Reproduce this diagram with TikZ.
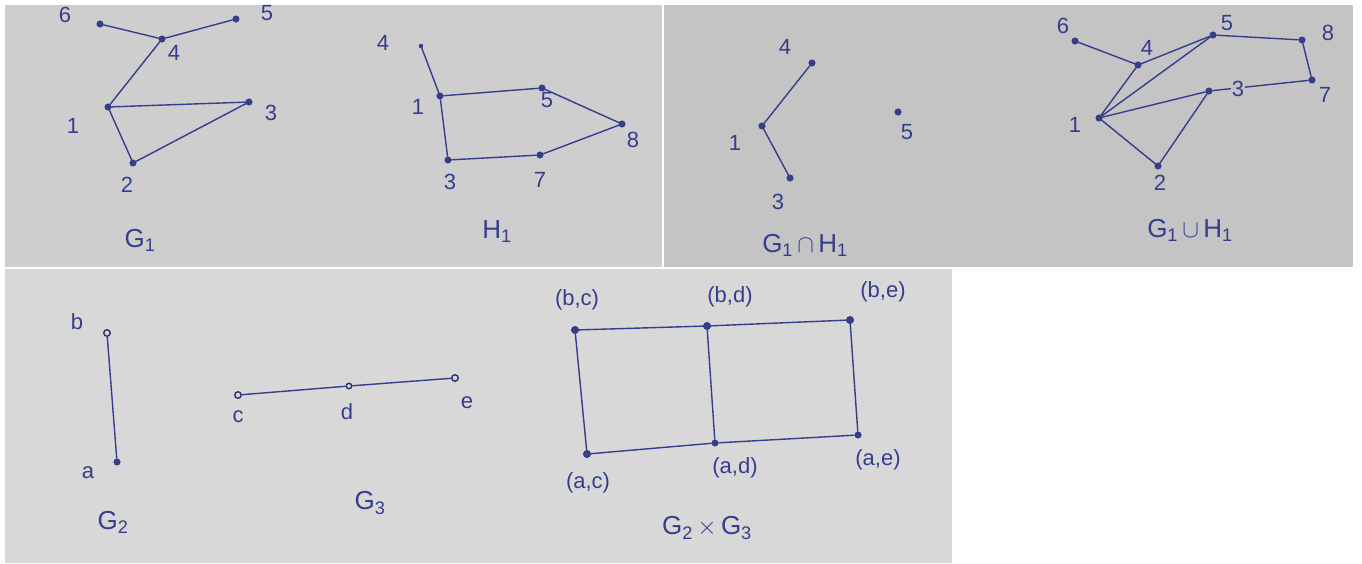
\documentclass[tikz,border=0pt]{standalone}
\usepackage{fontspec}
\setmainfont{Liberation Sans}
\begin{document}
\begin{tikzpicture}[x=1pt,y=-1pt,
  v/.style={circle,fill=ink,draw=ink!80!black,inner sep=0pt,minimum size=6.5pt},
  lab/.style={text=ink,font=\fontsize{22}{26}\selectfont,inner sep=0pt},
  ttl/.style={text=ink,font=\fontsize{26}{30}\selectfont,inner sep=0pt},
  e/.style={draw=ink,line width=1.4pt}]
\definecolor{ink}{RGB}{52,62,140}
\definecolor{paperA}{RGB}{206,206,206}
\definecolor{paperB}{RGB}{196,196,196}
\definecolor{paperC}{RGB}{216,216,216}
\useasboundingbox (0,0) rectangle (1362,563);
\fill[white] (0,0) rectangle (1362,563);
\fill[paperA] (5,5) rectangle (662,267);
\fill[paperB] (664,5) rectangle (1353,267);
\fill[paperC] (5,269) rectangle (952,563);

% ---------- G1 ----------
\node[v] (g6) at (100,24) {};
\node[v] (g5) at (236,19) {};
\node[v] (g4) at (162,39) {};
\node[v] (g1) at (108,107) {};
\node[v] (g3) at (249,102) {};
\node[v] (g2) at (133,163) {};
\draw[e] (g6) -- (g4) -- (g5);
\draw[e] (g4) -- (g1) -- (g3) -- (g2) -- (g1);
\node[lab] at (65,15) {6};
\node[lab] at (267,13) {5};
\node[lab] at (174,53) {4};
\node[lab] at (73,126) {1};
\node[lab] at (271,113) {3};
\node[lab] at (127,185) {2};
\node[ttl] (tG1) at (140,240) {G\textsubscript{1}};

% ---------- H1 ----------
\node[v,minimum size=4pt] (h4) at (421,46) {};
\node[v] (h1) at (440,96) {};
\node[v] (h5) at (542,88) {};
\node[v] (h8) at (622,124) {};
\node[v] (h7) at (540,155) {};
\node[v] (h3) at (448,160) {};
\draw[e] (h4) -- (h1) -- (h5) -- (h8) -- (h7) -- (h3) -- (h1);
\node[lab] at (383,43) {4};
\node[lab] at (418,107) {1};
\node[lab] at (547,100) {5};
\node[lab] at (633,140) {8};
\node[lab] at (540,180) {7};
\node[lab] at (450,182) {3};
\node[ttl] (tH1) at (497,232) {H\textsubscript{1}};

% ---------- G1 cap H1 ----------
\node[v] (i4) at (812,63) {};
\node[v] (i1) at (762,126) {};
\node[v] (i3) at (790,178) {};
\node[v] (i5) at (898,112) {};
\draw[e] (i4) -- (i1) -- (i3);
\node[lab] at (785,47) {4};
\node[lab] at (735,143) {1};
\node[lab] at (778,202) {3};
\node[lab] at (907,132) {5};
\node[ttl] (tI) at (805,245) {G\textsubscript{1}\,$\cap$\,H\textsubscript{1}};

% ---------- G1 cup H1 ----------
\node[v] (u6) at (1075,41) {};
\node[v] (u4) at (1138,65) {};
\node[v] (u5) at (1213,35) {};
\node[v] (u8) at (1302,40) {};
\node[v] (u7) at (1312,80) {};
\node[v] (u3) at (1209,91) {};
\node[v] (u1) at (1099,118) {};
\node[v] (u2) at (1158,166) {};
\draw[e] (u6) -- (u4) -- (u5) -- (u8) -- (u7) -- (u3);
\draw[e] (u4) -- (u1) -- (u5);
\draw[e] (u3) -- (u1) -- (u2) -- (u3);
\node[lab] at (1063,26) {6};
\node[lab] at (1147,48) {4};
\node[lab] at (1227,23) {5};
\node[lab] at (1328,33) {8};
\node[lab] at (1325,95) {7};
\node[lab,fill=paperB,inner sep=1pt] at (1238,89) {3};
\node[lab] at (1075,125) {1};
\node[lab] at (1160,183) {2};
\node[ttl] (tU) at (1190,230) {G\textsubscript{1}\,$\cup$\,H\textsubscript{1}};

% ---------- G2 ----------
\node[v,fill=paperC,line width=1.4pt] (b) at (107,333) {};
\node[v] (a) at (117,462) {};
\draw[e] (b) -- (a);
\node[lab] at (77,322) {b};
\node[lab] at (88,473) {a};
\node[ttl] (tG2) at (113,522) {G\textsubscript{2}};

% ---------- G3 ----------
\node[v,fill=paperC,line width=1.4pt] (c) at (238,395) {};
\node[v,fill=paperC,line width=1.4pt,minimum size=5.5pt] (d) at (349,386) {};
\node[v,fill=paperC,line width=1.4pt] (ee) at (455,378) {};
\draw[e] (c) -- (d) -- (ee);
\node[lab] at (238,417) {c};
\node[lab] at (347,412) {d};
\node[lab] at (467,403) {e};
\node[ttl] (tG3) at (370,503) {G\textsubscript{3}};

% ---------- G2 x G3 ----------
\node[v,minimum size=7.5pt] (bc) at (575,330) {};
\node[v,minimum size=7.5pt] (bd) at (707,326) {};
\node[v,minimum size=7.5pt] (be) at (850,320) {};
\node[v,minimum size=7.5pt] (ac) at (587,454) {};
\node[v] (ad) at (715,443) {};
\node[v] (ae) at (858,435) {};
\draw[e] (bc) -- (bd) -- (be) -- (ae) -- (ad) -- (ac) -- (bc);
\draw[e] (bd) -- (ad);
\node[lab] at (577,300) {(b,c)};
\node[lab] at (730,297) {(b,d)};
\node[lab] at (883,292) {(b,e)};
\node[lab] at (588,483) {(a,c)};
\node[lab] at (735,468) {(a,d)};
\node[lab] at (878,460) {(a,e)};
\node[ttl] (tP) at (707,528) {G\textsubscript{2}\,$\times$\,G\textsubscript{3}};
\end{tikzpicture}
\end{document}
